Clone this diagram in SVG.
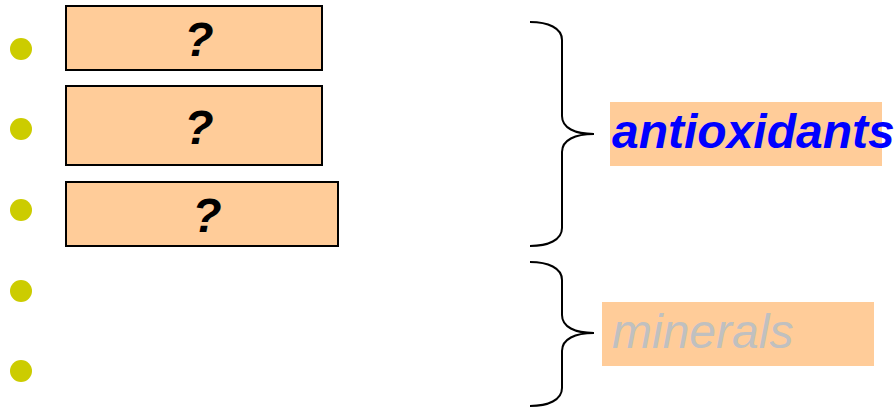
<svg xmlns="http://www.w3.org/2000/svg" width="896" height="410" viewBox="0 0 896 410">
  <style>
    .bullet { fill: #CCCC00; }
    .box { fill: #FFCC99; stroke: #000000; stroke-width: 2; }
    .q { font-family: "Liberation Sans", Arial, sans-serif; font-size: 48px; font-weight: bold; font-style: italic; fill: #000000; text-anchor: middle; }
    .tag { fill: #FFCC99; }
    .brace { fill: none; stroke: #000000; stroke-width: 2; }
    .label { font-family: "Liberation Sans", Arial, sans-serif; font-size: 48px; font-style: italic; }
  </style>
  <rect width="896" height="410" fill="#FFFFFF"/>

  <g id="bullets">
    <circle class="bullet" cx="21" cy="49" r="11"/>
    <circle class="bullet" cx="21" cy="129" r="11"/>
    <circle class="bullet" cx="21" cy="210" r="11"/>
    <circle class="bullet" cx="21" cy="291" r="11"/>
    <circle class="bullet" cx="21" cy="371" r="11"/>
  </g>

  <g id="box1">
    <rect class="box" x="66" y="6" width="256" height="64"/>
    <text class="q" x="199" y="56">?</text>
  </g>
  <g id="box2">
    <rect class="box" x="66" y="86" width="256" height="79"/>
    <text class="q" x="199" y="144">?</text>
  </g>
  <g id="box3">
    <rect class="box" x="66" y="182" width="272" height="64"/>
    <text class="q" x="207" y="232">?</text>
  </g>

  <g id="connectors">
    <path class="brace" d="M530,22 C548,22 562,28 562,40 L562,116 C562,128 575,134 594,134 C575,134 562,140 562,152 L562,228 C562,240 548,246 530,246"/>
    <path class="brace" d="M530,262 C548,262 562,268 562,280 L562,315 C562,327 575,333 594,333 C575,333 562,339 562,351 L562,388 C562,400 548,406 530,406"/>
  </g>

  <g id="antioxidants">
    <rect class="tag" x="610" y="102" width="272" height="64"/>
    <text class="label" x="612" y="148" font-weight="bold" fill="#0000FF">antioxidants</text>
  </g>

  <g id="minerals">
    <rect class="tag" x="602" y="302" width="272" height="64"/>
    <text class="label" x="612" y="348" fill="#C0C0C0">minerals</text>
  </g>
</svg>
